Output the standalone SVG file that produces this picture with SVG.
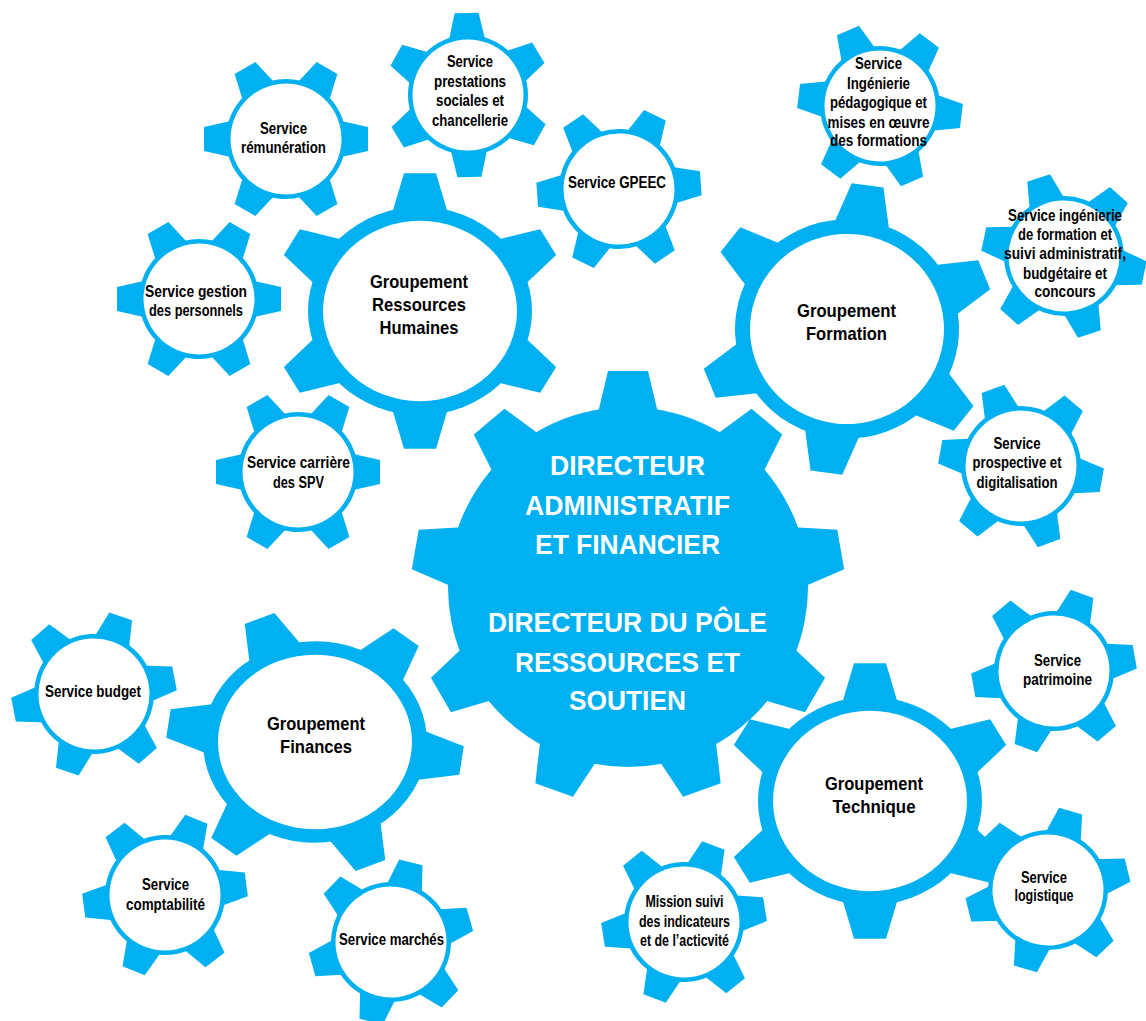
<svg xmlns="http://www.w3.org/2000/svg" width="1146" height="1021" viewBox="0 0 1146 1021">
<style>
text{font-family:"Liberation Sans Narrow","Liberation Sans",Arial,sans-serif;font-weight:bold;text-anchor:middle}
.ts{font-size:16px;fill:#000}
.tg{font-size:18.5px;fill:#000}
.tc{font-size:28px;fill:#fff}
</style>
<defs>
<path id="st" d="M-18.8,-52L18.8,-52L12,-82L-12,-82Z"/>
<g id="sgear" fill="#00B0F0">
<circle r="60"/>
<use href="#st"/><use href="#st" transform="rotate(60)"/><use href="#st" transform="rotate(120)"/>
<use href="#st" transform="rotate(180)"/><use href="#st" transform="rotate(240)"/><use href="#st" transform="rotate(300)"/>
<circle r="55.5" fill="#fff"/>
</g>
<path id="gt" d="M-29.3,-100L29.3,-100L16,-148L-16,-148Z"/>
<g id="ggear" fill="#00B0F0">
<circle r="112"/>
<use href="#gt"/><use href="#gt" transform="rotate(60)"/><use href="#gt" transform="rotate(120)"/>
<use href="#gt" transform="rotate(180)"/><use href="#gt" transform="rotate(240)"/><use href="#gt" transform="rotate(300)"/>
<circle r="97" fill="#fff"/>
</g>
<path id="ct" d="M-31,-170L31,-170L20,-216L-20,-216Z"/>
<g id="cgear" fill="#00B0F0">
<circle r="180"/>
<use href="#ct"/><use href="#ct" transform="rotate(40)"/><use href="#ct" transform="rotate(80)"/>
<use href="#ct" transform="rotate(120)"/><use href="#ct" transform="rotate(160)"/><use href="#ct" transform="rotate(200)"/>
<use href="#ct" transform="rotate(240)"/><use href="#ct" transform="rotate(280)"/><use href="#ct" transform="rotate(320)"/>
</g>
</defs>
<rect width="1146" height="1021" fill="#fff"/>

<g id="directeur">
<use href="#cgear" transform="translate(628,587)"/>
<text class="tc" x="627.5" y="475" textLength="155" lengthAdjust="spacingAndGlyphs">DIRECTEUR</text>
<text class="tc" x="627.5" y="515" textLength="205" lengthAdjust="spacingAndGlyphs">ADMINISTRATIF</text>
<text class="tc" x="627.5" y="554" textLength="185" lengthAdjust="spacingAndGlyphs">ET FINANCIER</text>
<text class="tc" x="627.5" y="632" textLength="279" lengthAdjust="spacingAndGlyphs">DIRECTEUR DU PÔLE</text>
<text class="tc" x="627.5" y="672" textLength="225" lengthAdjust="spacingAndGlyphs">RESSOURCES ET</text>
<text class="tc" x="627.5" y="710" textLength="117" lengthAdjust="spacingAndGlyphs">SOUTIEN</text>
</g>

<g id="groupement-rh">
<use href="#ggear" transform="translate(420,311) scale(1,0.93)"/>
<text class="tg" x="419" y="288" textLength="98" lengthAdjust="spacingAndGlyphs">Groupement</text>
<text class="tg" x="419" y="311" textLength="94" lengthAdjust="spacingAndGlyphs">Ressources</text>
<text class="tg" x="419" y="334" textLength="79" lengthAdjust="spacingAndGlyphs">Humaines</text>
</g>

<g id="groupement-formation">
<use href="#ggear" transform="translate(847,329) scale(1,0.98) rotate(8)"/>
<text class="tg" x="846.5" y="317" textLength="99" lengthAdjust="spacingAndGlyphs">Groupement</text>
<text class="tg" x="846.5" y="340" textLength="81" lengthAdjust="spacingAndGlyphs">Formation</text>
</g>

<g id="groupement-finances">
<use href="#ggear" transform="translate(315,742) scale(1,0.9) rotate(-22)"/>
<text class="tg" x="316" y="730" textLength="98" lengthAdjust="spacingAndGlyphs">Groupement</text>
<text class="tg" x="316" y="753" textLength="72" lengthAdjust="spacingAndGlyphs">Finances</text>
</g>

<g id="groupement-technique">
<use href="#ggear" transform="translate(870,801) scale(1,0.93)"/>
<text class="tg" x="874" y="790" textLength="98" lengthAdjust="spacingAndGlyphs">Groupement</text>
<text class="tg" x="874" y="813" textLength="83" lengthAdjust="spacingAndGlyphs">Technique</text>
</g>

<g id="service-remuneration">
<use href="#sgear" transform="translate(286,139) rotate(30)"/>
<text class="ts" x="283.5" y="134" textLength="47" lengthAdjust="spacingAndGlyphs">Service</text>
<text class="ts" x="283.5" y="153" textLength="85" lengthAdjust="spacingAndGlyphs">rémunération</text>
</g>

<g id="service-prestations">
<use href="#sgear" transform="translate(468,95) rotate(-1)"/>
<text class="ts" x="470" y="67" textLength="46" lengthAdjust="spacingAndGlyphs">Service</text>
<text class="ts" x="470" y="87" textLength="72" lengthAdjust="spacingAndGlyphs">prestations</text>
<text class="ts" x="470" y="106" textLength="68" lengthAdjust="spacingAndGlyphs">sociales et</text>
<text class="ts" x="470" y="126" textLength="76" lengthAdjust="spacingAndGlyphs">chancellerie</text>
</g>

<g id="service-gpeec">
<use href="#sgear" transform="translate(619,189) rotate(26)"/>
<text class="ts" x="617" y="188" textLength="98" lengthAdjust="spacingAndGlyphs">Service GPEEC</text>
</g>

<g id="service-gestion">
<use href="#sgear" transform="translate(199,299) rotate(30)"/>
<text class="ts" x="196" y="297" textLength="102" lengthAdjust="spacingAndGlyphs">Service gestion</text>
<text class="ts" x="196" y="316" textLength="94" lengthAdjust="spacingAndGlyphs">des personnels</text>
</g>

<g id="service-carriere">
<use href="#sgear" transform="translate(298,472) rotate(30)"/>
<text class="ts" x="298.5" y="468" textLength="103" lengthAdjust="spacingAndGlyphs">Service carrière</text>
<text class="ts" x="298.5" y="488" textLength="51" lengthAdjust="spacingAndGlyphs">des SPV</text>
</g>

<g id="service-ingenierie-pedagogique">
<use href="#sgear" transform="translate(880,106) rotate(37)"/>
<text class="ts" x="878.5" y="69" textLength="47" lengthAdjust="spacingAndGlyphs">Service</text>
<text class="ts" x="878.5" y="89" textLength="63" lengthAdjust="spacingAndGlyphs">Ingénierie</text>
<text class="ts" x="878.5" y="108" textLength="97" lengthAdjust="spacingAndGlyphs">pédagogique et</text>
<text class="ts" x="878.5" y="128" textLength="102" lengthAdjust="spacingAndGlyphs">mises en œuvre</text>
<text class="ts" x="878.5" y="146" textLength="97" lengthAdjust="spacingAndGlyphs">des formations</text>
</g>

<g id="service-ingenierie-formation">
<use href="#sgear" transform="translate(1064,256) rotate(42)"/>
<text class="ts" x="1065" y="221" textLength="114" lengthAdjust="spacingAndGlyphs">Service ingénierie</text>
<text class="ts" x="1065" y="240" textLength="94" lengthAdjust="spacingAndGlyphs">de formation et</text>
<text class="ts" x="1065" y="259" textLength="122" lengthAdjust="spacingAndGlyphs">suivi administratif,</text>
<text class="ts" x="1065" y="279" textLength="84" lengthAdjust="spacingAndGlyphs">budgétaire et</text>
<text class="ts" x="1065" y="297" textLength="61" lengthAdjust="spacingAndGlyphs">concours</text>
</g>

<g id="service-prospective">
<use href="#sgear" transform="translate(1021,466) rotate(40)"/>
<text class="ts" x="1017" y="449" textLength="47" lengthAdjust="spacingAndGlyphs">Service</text>
<text class="ts" x="1017" y="468" textLength="89" lengthAdjust="spacingAndGlyphs">prospective et</text>
<text class="ts" x="1017" y="488" textLength="81" lengthAdjust="spacingAndGlyphs">digitalisation</text>
</g>

<g id="service-patrimoine">
<use href="#sgear" transform="translate(1054,671) rotate(20)"/>
<text class="ts" x="1057.5" y="666" textLength="47" lengthAdjust="spacingAndGlyphs">Service</text>
<text class="ts" x="1057.5" y="685" textLength="69" lengthAdjust="spacingAndGlyphs">patrimoine</text>
</g>

<g id="service-logistique">
<use href="#sgear" transform="translate(1048,890) rotate(16)"/>
<text class="ts" x="1044" y="883" textLength="46" lengthAdjust="spacingAndGlyphs">Service</text>
<text class="ts" x="1044" y="901" textLength="59" lengthAdjust="spacingAndGlyphs">logistique</text>
</g>

<g id="mission-suivi">
<use href="#sgear" transform="translate(684,922) rotate(21)"/>
<text class="ts" x="684.5" y="907" textLength="78" lengthAdjust="spacingAndGlyphs">Mission suivi</text>
<text class="ts" x="684.5" y="927" textLength="91" lengthAdjust="spacingAndGlyphs">des indicateurs</text>
<text class="ts" x="684.5" y="946" textLength="89" lengthAdjust="spacingAndGlyphs">et de l’acticvité</text>
</g>

<g id="service-marches">
<use href="#sgear" transform="translate(391,942) rotate(14)"/>
<text class="ts" x="391.5" y="945" textLength="105" lengthAdjust="spacingAndGlyphs">Service marchés</text>
</g>

<g id="service-comptabilite">
<use href="#sgear" transform="translate(165,895) rotate(22.5)"/>
<text class="ts" x="165.5" y="890" textLength="47" lengthAdjust="spacingAndGlyphs">Service</text>
<text class="ts" x="165.5" y="910" textLength="79" lengthAdjust="spacingAndGlyphs">comptabilité</text>
</g>

<g id="service-budget">
<use href="#sgear" transform="translate(94,694) rotate(19)"/>
<text class="ts" x="93" y="697" textLength="96" lengthAdjust="spacingAndGlyphs">Service budget</text>
</g>
</svg>
